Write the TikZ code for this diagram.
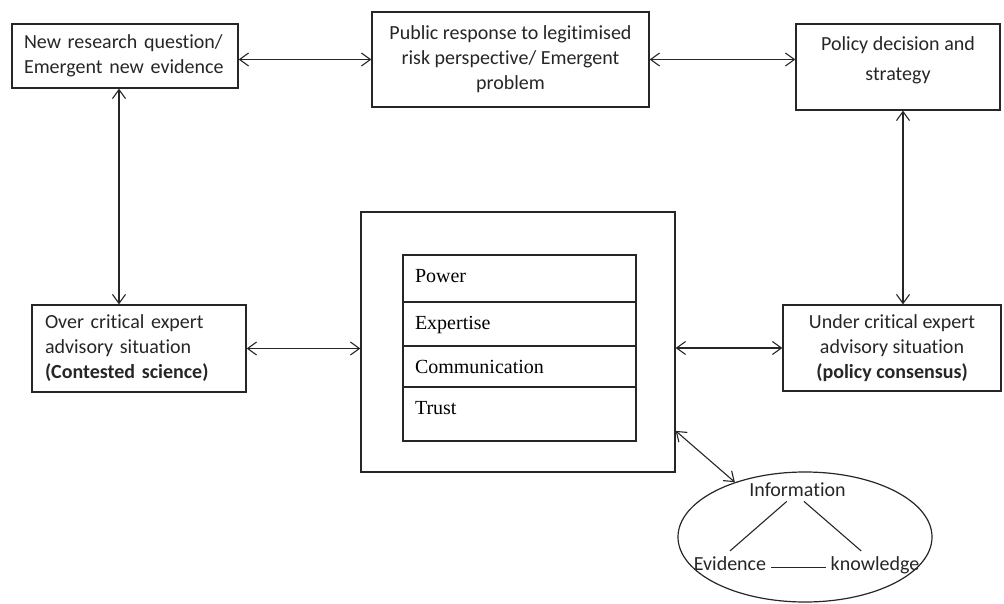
\documentclass[tikz,border=0pt]{standalone}
\usepackage{fontspec}
\setmainfont{Carlito}[Ligatures=NoCommon]
\newfontfamily\timesfont{Liberation Serif}
\usetikzlibrary{arrows.meta, positioning, calc, shapes.geometric}

\newcommand{\boxfont}{\fontsize{20}{25}\selectfont}

\begin{document}
\begin{tikzpicture}[
          x=1pt, y=-1pt,
          box/.style={rectangle, draw=black!85, line width=1.3pt, inner xsep=10pt, inner ysep=0pt, font=\boxfont, text=black!85},
          cell/.style={rectangle, draw=black!85, line width=1.3pt, outer sep=0pt, text width=209pt, inner xsep=12pt, inner ysep=0pt, text height=27pt, align=left, font=\timesfont\boxfont},
          word/.style={inner sep=5pt, font=\boxfont, text=black!85, anchor=base},
          arrow/.style={{Straight Barb[length=9pt,width=13pt]}-{Straight Barb[length=9pt,width=13pt]}, line width=1.1pt, draw=black!85},
          link/.style={line width=1.1pt, draw=black!85},
          node distance=0pt
      ]
      \useasboundingbox (0,0) rectangle (1004,604);

      % Top row
      \node[box, minimum height=64pt, text width=202pt, inner xsep=12pt, align=left] (question) at (125,56) {New research question/\\Emergent new evidence};
      \node[box, minimum height=95pt, minimum width=277pt, align=center] (public) at (510.5,59.5) {Public response to legitimised\\risk perspective/ Emergent\\problem};
      \node[box, inner ysep=10pt] (policy) at (898,67) {\parbox[c][66pt][t]{184pt}{\vspace*{3pt}\centering\fontsize{20}{30}\selectfont Policy decision and\\strategy}};

      % Middle row
      \node[box, minimum height=87pt, text width=188pt, inner xsep=13pt, align=left] (over) at (139,348.5) {Over critical expert\\advisory situation\\\textbf{(Contested science)}};
      \node[box, minimum height=86pt, minimum width=218pt, align=center] (under) at (892,348) {Under critical expert\\advisory situation\\\textbf{(policy consensus)}};
      \node[box, minimum width=314pt, minimum height=260pt, inner sep=0pt] (frame) at (518,342) {};

      % Factors
      \node[cell, text depth=20pt, anchor=north west] (power) at (403,255) {Power};
      \node[cell, text depth=17pt, below=of power] (expertise) {Expertise};
      \node[cell, text depth=14pt, below=of expertise] (communication) {Communication};
      \node[cell, text depth=27pt, below=of communication] (trust) {Trust};

      % Information
      \node[ellipse, draw=black!85, line width=1.2pt, minimum width=254pt, minimum height=130pt, inner sep=0pt] (cloud) at (805,537) {};
      \node[word] (information) at (797.5,496) {Information};
      \node[word] (evidence) at (730,570) {Evidence};
      \node[word] (knowledge) at (875,570) {knowledge};

      % Arrows between boxes
      \coordinate (qfoot) at ($(question.south)+(-6,0)$);
      \coordinate (pfoot) at ($(policy.south)+(5,0)$);
      \coordinate (fside) at ($(frame.north east)!0.84!(frame.south east)$);
      \draw[arrow] (public.west -| question.east) -- (public.west);
      \draw[arrow] (public.east) -- (public.east -| policy.west);
      \draw[arrow] (qfoot) -- (qfoot |- over.north);
      \draw[arrow] (pfoot) -- (pfoot |- under.north);
      \draw[arrow] (over.east) -- (over.east -| frame.west);
      \draw[arrow] (under.west -| frame.east) -- (under.west);
      \draw[arrow] (fside) -- (cloud.142);

      % Links inside the ellipse
      \draw[link] ($(information.south west)!0.4!(information.south east)$) -- (evidence.north);
      \draw[link] ($(information.south west)!0.56!(information.south east)$) -- ($(knowledge.north west)!0.36!(knowledge.north east)$);
      \draw[link] (evidence.mid east) -- (evidence.mid east -| knowledge.west);

      \end{tikzpicture}
\end{document}
